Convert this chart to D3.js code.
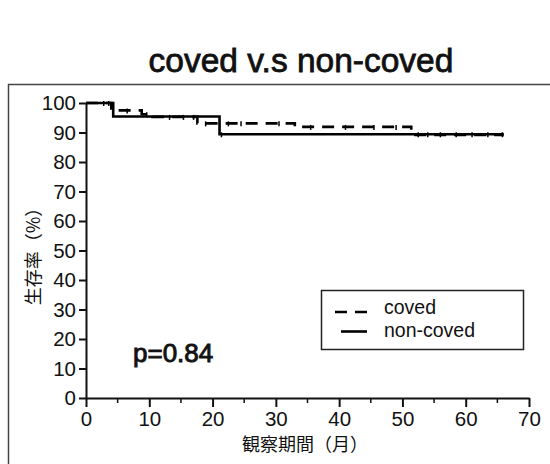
<!DOCTYPE html>
<html lang="ja">

<head>
    <meta charset="UTF-8">
    <title>coved v.s non-coved</title>
    <style>
        body { margin: 0; background: #fff; }
        text { font-family: "Liberation Sans", Arial, sans-serif; fill: #111; }
        .jp { font-family: "Noto Sans CJK JP", sans-serif; }
    </style>
</head>

<body>
    <div id="chart"></div>
    <script src="https://d3js.org/d3.v7.min.js"></script>
    <script>
        // Kaplan-Meier steps (months, survival %)
        var covedTimes = [0, 4.0, 8.8, 10.5, 17.6, 33, 51.4, 66];
        var covedSurv = [100, 97.5, 96.2, 95.3, 93.1, 91.9, 89.2, 89.2];
        var nonCovedTimes = [0, 4.3, 21.1, 66];
        var nonCovedSurv = [100, 95.4, 89.4, 89.4];

        // censoring marks
        var covedCensor = [2.8, 6.5, 9.6, 13.2, 15.4, 17.0, 18.9, 22.5, 24.5, 30.5, 35.5, 41, 45.5, 49];
        var nonCovedCensor = [3.6, 21.4, 52.5, 54, 56, 58.5, 61, 63.5, 65.8];

        var xTicks = [0, 10, 20, 30, 40, 50, 60, 70];
        var yTicks = [0, 10, 20, 30, 40, 50, 60, 70, 80, 90, 100];
        var seriesNames = ["coved", "non-coved"];

        var width = 550, height = 464;
        var svg = d3.select("#chart").append("svg")
            .attr("width", width)
            .attr("height", height);

        // outer frame (runs off the right and bottom edge)
        svg.append("rect")
            .attr("x", 8.5).attr("y", 84.5)
            .attr("width", 600).attr("height", 500)
            .attr("fill", "none")
            .attr("stroke", "#444")
            .attr("stroke-width", 1.5);

        svg.append("text")
            .attr("x", 301).attr("y", 72)
            .attr("text-anchor", "middle")
            .style("font-size", "33.5px")
            .style("stroke", "#111")
            .style("stroke-width", "0.8px")
            .text("coved v.s non-coved");

        var x = d3.scaleLinear().domain([0, 70]).range([86, 529]);
        var y = d3.scaleLinear().domain([0, 100]).range([398, 103]);

        // x axis
        var xAxis = d3.axisBottom(x).tickValues(xTicks).tickSize(9).tickPadding(4).tickSizeOuter(0);
        var gx = svg.append("g")
            .attr("transform", "translate(0,398)")
            .call(xAxis);
        gx.append("g").selectAll("line")
            .data(d3.range(5, 70, 10))
            .join("line")
            .attr("x1", d => x(d)).attr("x2", d => x(d))
            .attr("y1", 0).attr("y2", 5)
            .attr("stroke", "#111").attr("stroke-width", 1.5);

        // y axis
        var yAxis = d3.axisLeft(y).tickValues(yTicks).tickSize(7).tickPadding(3).tickSizeOuter(0);
        var gy = svg.append("g")
            .attr("transform", "translate(86,0)")
            .call(yAxis);

        svg.selectAll(".domain").attr("stroke", "#111").attr("stroke-width", 2);
        svg.selectAll(".tick line").attr("stroke", "#111").attr("stroke-width", 2);
        svg.selectAll(".tick text")
            .style("font-size", "20.5px")
            .style("font-family", "'Liberation Sans', Arial, sans-serif")
            .attr("fill", "#111");

        svg.append("text")
            .attr("class", "jp")
            .attr("x", 305).attr("y", 451)
            .attr("text-anchor", "middle")
            .style("font-size", "18px")
            .text("観察期間（月）");

        svg.append("text")
            .attr("class", "jp")
            .attr("transform", "translate(40,252) rotate(-90)")
            .attr("text-anchor", "middle")
            .style("font-size", "18px")
            .text("生存率（%）");

        // survival curves
        var line = d3.line()
            .x(d => x(d.t))
            .y(d => y(d.s))
            .curve(d3.curveStepAfter);

        var coved = covedTimes.map((t, i) => ({ t: t, s: covedSurv[i] }));
        var nonCoved = nonCovedTimes.map((t, i) => ({ t: t, s: nonCovedSurv[i] }));

        function stepValue(times, surv, t) {
            var i = d3.bisectRight(times, t) - 1;
            return surv[Math.max(0, i)];
        }

        svg.append("path")
            .datum(nonCoved)
            .attr("d", line)
            .attr("fill", "none")
            .attr("stroke", "#000")
            .attr("stroke-width", 2.6);

        svg.append("path")
            .datum(coved)
            .attr("d", line)
            .attr("fill", "none")
            .attr("stroke", "#000")
            .attr("stroke-width", 2.6)
            .attr("stroke-dasharray", "12,8");

        svg.append("g").selectAll("line")
            .data(covedCensor)
            .join("line")
            .attr("x1", d => x(d)).attr("x2", d => x(d))
            .attr("y1", d => y(stepValue(covedTimes, covedSurv, d)) - 2)
            .attr("y2", d => y(stepValue(covedTimes, covedSurv, d)) + 3)
            .attr("stroke", "#000").attr("stroke-width", 1.5);

        svg.append("g").selectAll("line")
            .data(nonCovedCensor)
            .join("line")
            .attr("x1", d => x(d)).attr("x2", d => x(d))
            .attr("y1", d => y(stepValue(nonCovedTimes, nonCovedSurv, d)) - 2)
            .attr("y2", d => y(stepValue(nonCovedTimes, nonCovedSurv, d)) + 3)
            .attr("stroke", "#000").attr("stroke-width", 1.5);

        // p value
        svg.append("text")
            .attr("x", 133).attr("y", 362)
            .style("font-size", "26px")
            .style("stroke", "#111")
            .style("stroke-width", "0.9px")
            .text("p=0.84");

        // legend
        var legend = svg.append("g");
        legend.append("rect")
            .attr("x", 321.5).attr("y", 290.5)
            .attr("width", 202).attr("height", 59)
            .attr("fill", "#fff")
            .attr("stroke", "#222").attr("stroke-width", 1.5);

        var legendItems = legend.selectAll(".item")
            .data(seriesNames)
            .join("g")
            .attr("class", "item");

        legendItems.append("line")
            .attr("x1", (d, i) => i === 0 ? 335 : 341)
            .attr("x2", 367)
            .attr("y1", (d, i) => 312 + i * 19.5)
            .attr("y2", (d, i) => 312 + i * 19.5)
            .attr("stroke", "#000")
            .attr("stroke-width", 2.6)
            .attr("stroke-dasharray", (d, i) => i === 0 ? "12,8" : null);

        legendItems.append("text")
            .attr("x", 384)
            .attr("y", (d, i) => 314 + i * 22.5)
            .style("font-size", "19.5px")
            .text(d => d);
    </script>
</body>

</html>
